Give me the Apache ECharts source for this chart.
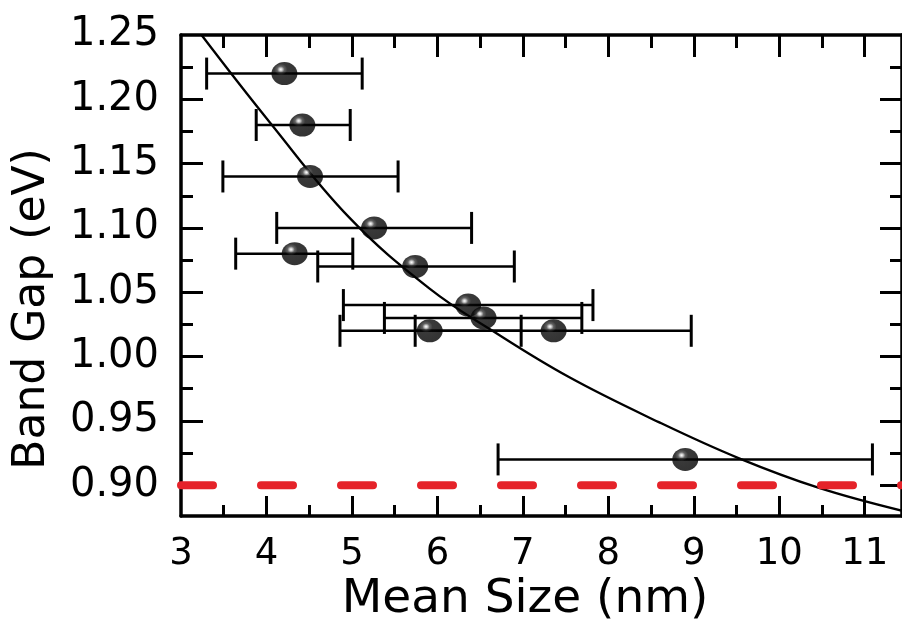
<!DOCTYPE html>
<html>
<head>
<meta charset="utf-8">
<script src="https://cdn.jsdelivr.net/npm/echarts@6/dist/echarts.min.js"></script>
<style>
  html, body { margin: 0; background: #fff; }
  #chart { width: 902px; height: 621px; }
</style>
</head>
<body>
<div id="chart"></div>
<script>
// measured points: mean size (nm), band gap (eV), error bar ends (nm)
const meanSize = [4.21, 4.42, 4.51, 5.26, 4.33, 5.74, 6.36, 6.54, 5.91, 7.36, 8.90];
const bandGap  = [1.22, 1.18, 1.14, 1.10, 1.08, 1.07, 1.04, 1.03, 1.02, 1.02, 0.92];
const sizeLow  = [3.30, 3.88, 3.49, 4.12, 3.64, 4.60, 4.90, 5.38, 4.86, 5.74, 6.71];
const sizeHigh = [5.12, 4.98, 5.54, 6.40, 5.01, 6.90, 7.82, 7.69, 6.98, 8.97, 11.09];

// fitted curve
const fitX = [3.24, 4.04, 4.97, 5.905, 6.644, 7.539, 8.59, 9.523, 10.456, 11.44];
const fitY = [1.25, 1.182, 1.108, 1.053, 1.020, 0.984, 0.949, 0.921, 0.898, 0.880];

// bulk band gap (dashed red)
const bulkGap = 0.90;

// axes
const xMin = 3, xMax = 11.436;
const yMin = 0.876, yMax = 1.25;
const xLabels = [3, 4, 5, 6, 7, 8, 9, 10, 11];
const xMajor = [4, 5, 6, 7, 8, 9, 10, 11];
const xMinor = [3.5, 4.5, 5.5, 6.5, 7.5, 8.5, 9.5, 10.5];
const yMajor = [0.90, 0.95, 1.00, 1.05, 1.10, 1.15, 1.20];
const yLabels = [0.90, 0.95, 1.00, 1.05, 1.10, 1.15, 1.20, 1.25];
const yMinor = [0.925, 0.975, 1.025, 1.075, 1.125, 1.175, 1.225];

const FONT = 'DejaVu Sans';
let chart = echarts.init(document.getElementById('chart'));

// one axis per tick set (major / minor), all sharing the same range
function makeAxis(kind, pos, ticks, len, withLine, labels, fontSize) {
  let ax = {
    type: 'value',
    position: pos,
    min: kind == 'x' ? xMin : yMin,
    max: kind == 'x' ? xMax : yMax,
    splitLine: { show: false },
    axisLine: { show: withLine, onZero: false, lineStyle: { color: '#000', width: 3.5 } },
    axisTick: { show: true, inside: true, length: len, customValues: ticks, lineStyle: { color: '#000', width: 3 } },
    axisLabel: { show: false }
  };
  if (labels) {
    ax.axisLabel = {
      show: true,
      customValues: labels,
      margin: kind == 'x' ? 20 : 22,
      color: '#000',
      fontFamily: FONT,
      fontSize: fontSize,
      formatter: v => kind == 'x' ? String(v) : v.toFixed(2)
    };
  }
  return ax;
}

let option = {
  animation: false,
  backgroundColor: '#fff',
  grid: { left: 181, right: -2, top: 35, bottom: 105 },
  xAxis: [
    makeAxis('x', 'bottom', xMajor, 20, true, xLabels, 37),
    makeAxis('x', 'bottom', xMinor, 11, false),
    makeAxis('x', 'top', xMajor, 22, true),
    makeAxis('x', 'top', xMinor, 13, false)
  ],
  yAxis: [
    makeAxis('y', 'left', yMajor, 22, true, yLabels, 40),
    makeAxis('y', 'left', yMinor, 12, false),
    makeAxis('y', 'right', yMajor, 22, true),
    makeAxis('y', 'right', yMinor, 12, false)
  ],
  graphic: [
    {
      type: 'text', x: 525, y: 600,
      style: { text: 'Mean Size (nm)', fontFamily: FONT, fontSize: 47, fill: '#000', align: 'center', verticalAlign: 'middle' }
    },
    {
      type: 'text', x: 33, y: 309, rotation: Math.PI / 2,
      style: { text: 'Band Gap (eV)', fontFamily: FONT, fontSize: 44, fill: '#000', align: 'center', verticalAlign: 'middle' }
    }
  ],
  series: [
    {
      // horizontal error bars
      type: 'custom',
      z: 2,
      encode: { x: [0, 1], y: 2 },
      data: meanSize.map((m, i) => [sizeLow[i], sizeHigh[i], bandGap[i]]),
      renderItem: function(params, api) {
        let lo = api.coord([api.value(0), api.value(2)]);
        let hi = api.coord([api.value(1), api.value(2)]);
        let h = 16;
        let st = { stroke: '#000', lineWidth: 2.5 };
        return {
          type: 'group',
          children: [
            { type: 'line', shape: { x1: lo[0], y1: lo[1], x2: hi[0], y2: hi[1] }, style: st },
            { type: 'line', shape: { x1: lo[0], y1: lo[1] - h, x2: lo[0], y2: lo[1] + h }, style: { stroke: '#000', lineWidth: 3 } },
            { type: 'line', shape: { x1: hi[0], y1: hi[1] - h, x2: hi[0], y2: hi[1] + h }, style: { stroke: '#000', lineWidth: 3 } }
          ]
        };
      }
    },
    {
      // fit curve
      type: 'line',
      z: 3,
      smooth: 0.4,
      showSymbol: false,
      symbol: 'none',
      lineStyle: { color: '#000', width: 2.3 },
      data: fitX.map((x, i) => [x, fitY[i]])
    },
    {
      // bulk gap
      type: 'line',
      z: 4,
      symbol: 'none',
      lineStyle: { color: '#e5232a', width: 8, type: [32, 48], cap: 'round' },
      data: [[xMin, bulkGap], [xMax, bulkGap]]
    },
    {
      type: 'scatter',
      z: 5,
      symbol: 'circle',
      symbolSize: [26, 23],
      itemStyle: {
        color: {
          type: 'radial', x: 0.36, y: 0.32, r: 0.7,
          colorStops: [
            { offset: 0, color: '#ffffff' },
            { offset: 0.08, color: '#c4c4c4' },
            { offset: 0.2, color: '#3a3a3a' },
            { offset: 0.36, color: '#080808' },
            { offset: 1, color: '#000' }
          ]
        }
      },
      data: meanSize.map((m, i) => [m, bandGap[i]])
    }
  ]
};

chart.setOption(option);
</script>
</body>
</html>
